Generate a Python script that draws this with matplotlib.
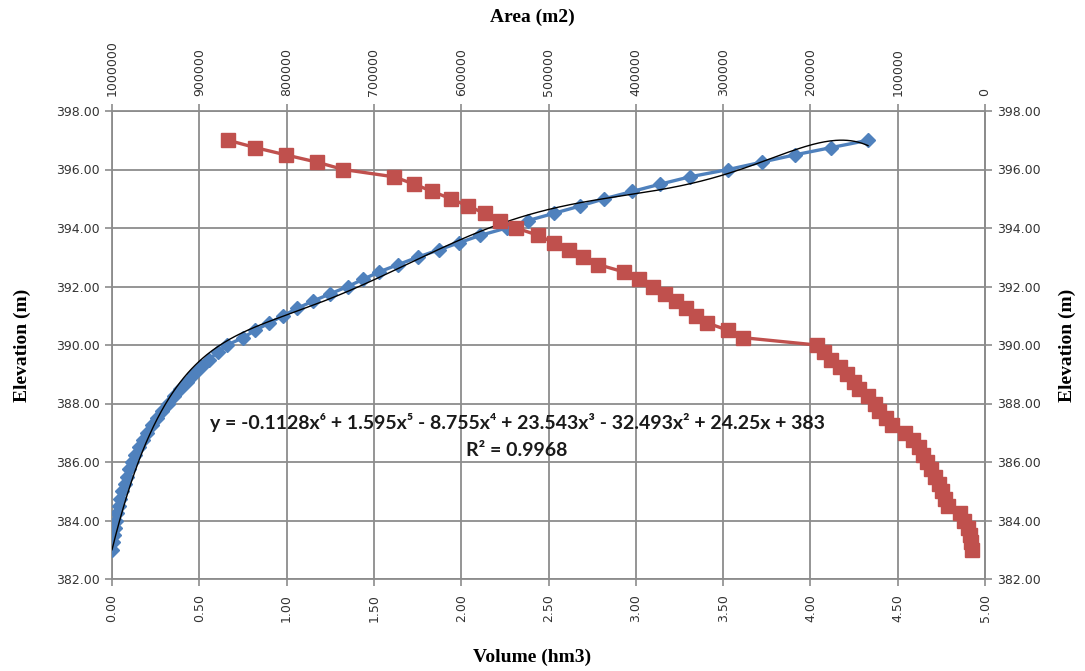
import numpy as np
import matplotlib
matplotlib.use("Agg")
import matplotlib.pyplot as plt
from matplotlib.ticker import FuncFormatter

# ---------------- data ----------------
elevation = [383.00, 383.25, 383.50, 383.75, 384.00, 384.25, 384.50, 384.75,
             385.00, 385.25, 385.50, 385.75, 386.00, 386.25, 386.50, 386.75,
             387.00, 387.25, 387.50, 387.75, 388.00, 388.25, 388.50, 388.75,
             389.00, 389.25, 389.50, 389.75, 390.00, 390.25, 390.50, 390.75,
             391.00, 391.25, 391.50, 391.75, 392.00, 392.25, 392.50, 392.75,
             393.00, 393.25, 393.50, 393.75, 394.00, 394.25, 394.50, 394.75,
             395.00, 395.25, 395.50, 395.75, 396.00, 396.25, 396.50, 396.75,
             397.00]

volume_hm3 = [0.000, 0.005, 0.010, 0.015, 0.022, 0.030, 0.038, 0.048,
              0.060, 0.072, 0.085, 0.100, 0.115, 0.132, 0.152, 0.175,
              0.202, 0.228, 0.258, 0.288, 0.320, 0.355, 0.390, 0.430,
              0.470, 0.510, 0.555, 0.605, 0.660, 0.750, 0.820, 0.900,
              0.980, 1.060, 1.150, 1.250, 1.350, 1.440, 1.530, 1.640,
              1.750, 1.870, 1.990, 2.110, 2.260, 2.380, 2.530, 2.680,
              2.820, 2.980, 3.140, 3.310, 3.530, 3.720, 3.910, 4.120,
              4.330]

area_m2 = [15000, 16000, 17000, 20000, 24000, 29000, 42000, 46000,
           49000, 53000, 57000, 62000, 67000, 71000, 76000, 82000,
           92000, 107000, 113000, 121000, 126000, 134000, 144000, 150000,
           158000, 166000, 176000, 184000, 193000, 277000, 294000, 318000,
           331000, 342000, 354000, 367000, 380000, 396000, 414000, 443000,
           460000, 476000, 494000, 512000, 537000, 555000, 573000, 592000,
           612000, 633000, 654000, 677000, 735000, 765000, 801000, 836000,
           867000]

# trendline coefficients as printed on the chart (highest power first)
trend_coeffs = [-0.1128, 1.595, -8.755, 23.543, -32.493, 24.25, 383]
r_squared = 0.9968

volume_ticks = [0.0, 0.5, 1.0, 1.5, 2.0, 2.5, 3.0, 3.5, 4.0, 4.5, 5.0]
area_ticks = [1000000, 900000, 800000, 700000, 600000, 500000,
              400000, 300000, 200000, 100000, 0]
elev_ticks = [382, 384, 386, 388, 390, 392, 394, 396, 398]

# ---------------- style ----------------
BLUE = "#4F81BD"
RED = "#C0504D"
GRID = "#8C8C8C"
TICKC = "#333333"
SERIF = "Liberation Serif"

fig = plt.figure(figsize=(10.85, 6.71), dpi=100)
ax = fig.add_axes([112 / 1085, 1 - 579 / 671, (985 - 112) / 1085, (579 - 111) / 671])

ax.set_xlim(0, 5)
ax.set_ylim(382, 398)
ax.set_xticks(volume_ticks)
ax.set_yticks(elev_ticks)
ax.xaxis.set_major_formatter(FuncFormatter(lambda v, p: f"{v:.2f}"))
ax.yaxis.set_major_formatter(FuncFormatter(lambda v, p: f"{v:.2f}"))
ax.grid(True, color=GRID, linewidth=1.3)
ax.set_axisbelow(True)
for s in ax.spines.values():
    s.set_color(GRID)
    s.set_linewidth(1.3)
ax.tick_params(axis="x", direction="out", length=5, color=GRID, width=1.2,
               labelsize=9, labelcolor=TICKC, labelrotation=90, pad=6)
ax.tick_params(axis="y", direction="out", length=5, color=GRID, width=1.2,
               labelsize=9, labelcolor=TICKC, pad=4)

# secondary right elevation axis
ry = ax.secondary_yaxis("right")
ry.set_yticks(elev_ticks)
ry.yaxis.set_major_formatter(FuncFormatter(lambda v, p: f"{v:.2f}"))
ry.spines["right"].set_color(GRID)
ry.spines["right"].set_linewidth(1.3)
ry.tick_params(axis="y", direction="out", length=5, color=GRID, width=1.2,
               labelsize=9, labelcolor=TICKC, pad=4)

# blue series: volume
ax.plot(volume_hm3, elevation, color=BLUE, linewidth=2.4, marker="D",
        markersize=7, markerfacecolor=BLUE, markeredgecolor=BLUE, zorder=3)

# trendline
xs = np.linspace(0, max(volume_hm3), 400)
ax.plot(xs, np.polyval(trend_coeffs, xs), color="black", linewidth=1.0, zorder=4)

# red series on top area axis
ax2 = ax.twiny()
ax2.set_xlim(1000000, 0)
ax2.set_xticks(area_ticks)
ax2.xaxis.set_major_formatter(FuncFormatter(lambda v, p: f"{int(round(v))}"))
for s in ax2.spines.values():
    s.set_visible(False)
ax2.tick_params(axis="x", direction="out", length=5, color=GRID, width=1.2,
                labelsize=9, labelcolor=TICKC, labelrotation=90, pad=6)
ax2.plot(area_m2, elevation, color=RED, linewidth=2.4, marker="s",
         markersize=9.5, markerfacecolor=RED, markeredgecolor=RED, zorder=3)

# trendline equation
eq = ("y = -0.1128x\u2076 + 1.595x\u2075 - 8.755x\u2074 + 23.543x\u00b3 "
      "- 32.493x\u00b2 + 24.25x + 383")
fig.text(517 / 1085, 1 - 423 / 671, eq, ha="center", va="center",
         fontsize=14, fontweight="bold", family=["Lato", "DejaVu Sans"], color="#1a1a1a")
fig.text(517 / 1085, 1 - 450 / 671, f"R\u00b2 = {r_squared}", ha="center", va="center",
         fontsize=14, fontweight="bold", family=["Lato", "DejaVu Sans"], color="#1a1a1a")

# axis titles
fig.text(532 / 1085, 1 - 657 / 671, "Volume (hm3)", ha="center", va="center",
         fontsize=14, fontweight="bold", family=SERIF)
fig.text(532 / 1085, 1 - 17 / 671, "Area (m2)", ha="center", va="center",
         fontsize=14, fontweight="bold", family=SERIF)
fig.text(22 / 1085, 1 - 345 / 671, "Elevation (m)", ha="center", va="center",
         rotation=90, fontsize=14, fontweight="bold", family=SERIF)
fig.text(1067 / 1085, 1 - 345 / 671, "Elevation (m)", ha="center", va="center",
         rotation=90, fontsize=14, fontweight="bold", family=SERIF)

fig.savefig("out.png", dpi=100)
